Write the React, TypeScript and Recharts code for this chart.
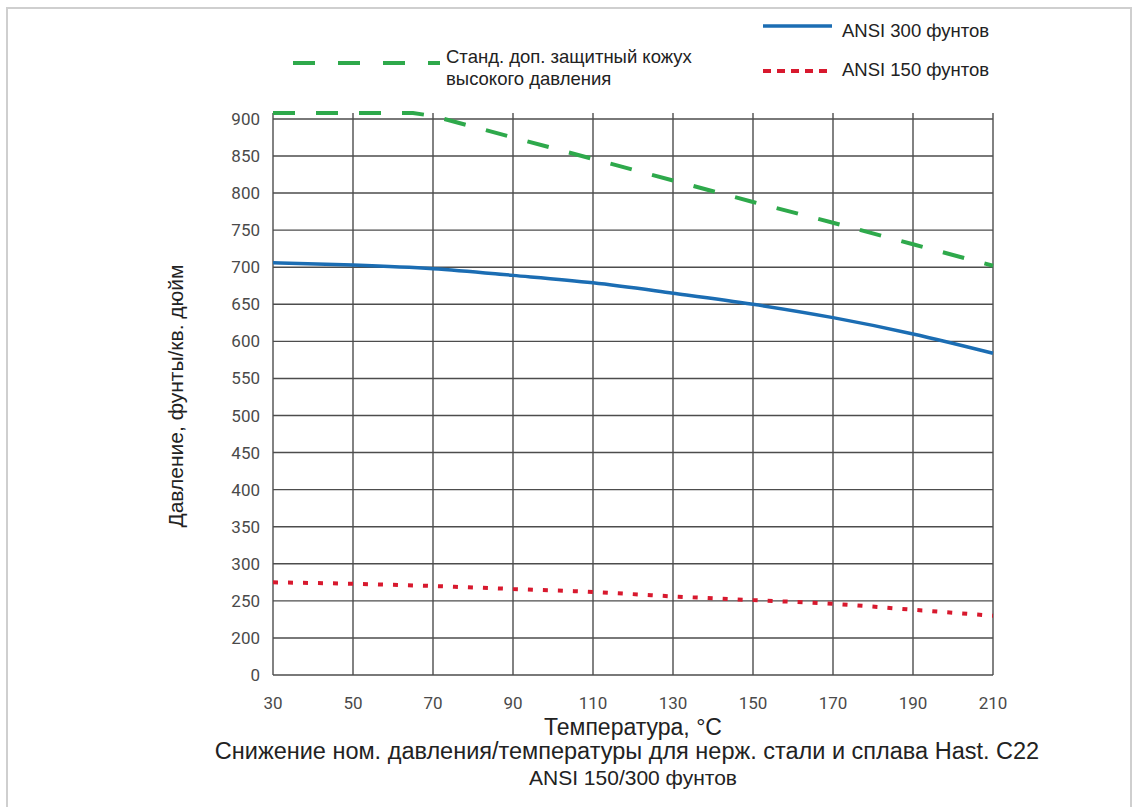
import React from 'react';
import { LineChart, Line, XAxis, YAxis, CartesianGrid } from 'recharts';

// temperature, °C
const temps = [30, 50, 70, 90, 110, 130, 150, 170, 190, 210];
const ansi300 = [706, 703, 698, 689, 679, 665, 650, 632, 610, 584];
const ansi150 = [275, 273, 270, 266, 262, 256, 251, 246, 238, 230];

const guardTemps = [30, 50, 65, 70, 90, 110, 130, 150, 170, 190, 210];
const guard = [908, 908, 908, 904, 875, 846, 817, 788, 760, 731, 702];

const xTicks = [30, 50, 70, 90, 110, 130, 150, 170, 190, 210];
const yLabels = ['0', '200', '250', '300', '350', '400', '450', '500', '550', '600', '650', '700', '750', '800', '850', '900'];

// broken axis: 0, then 200..900 in steps of 50, equally spaced
const toIdx = (v: number) => (v - 150) / 50;

const mainData = temps.map((t, i) => ({ t, a300: toIdx(ansi300[i]), a150: toIdx(ansi150[i]) }));
const guardData = guardTemps.map((t, i) => ({ t, g: toIdx(guard[i]) }));

const GREEN = '#2ea94b';
const BLUE = '#1b6db3';
const RED = '#d8192e';

const txt: React.CSSProperties = {
  position: 'absolute',
  fontFamily: '"Liberation Sans", Arial, sans-serif',
  color: '#222',
  whiteSpace: 'nowrap',
  lineHeight: 1,
};

export default function App() {
  return (
    <div style={{ position: 'absolute', left: 0, top: 0, width: 1139, height: 807, background: '#fff', overflow: 'hidden' }}>
      <div style={{ position: 'absolute', left: 0, top: 0 }}>
        <LineChart width={1139} height={807} margin={{ top: 113, right: 146, bottom: 102, left: 213 }}>
          <CartesianGrid stroke="#4d4d4d" strokeWidth={1.4} horizontalValues={yLabels.map((_, i) => i)} verticalValues={xTicks} />
          <XAxis
            dataKey="t"
            type="number"
            domain={[30, 210]}
            ticks={xTicks}
            allowDuplicatedCategory={false}
            axisLine={false}
            tickLine={false}
            tickMargin={16}
            height={30}
            tick={{ fill: '#4a4a4a', fontSize: 17, fontFamily: 'Roboto' }}
          />
          <YAxis
            type="number"
            domain={[0, 15]}
            ticks={yLabels.map((_, i) => i)}
            tickFormatter={(i: number) => yLabels[i]}
            axisLine={false}
            tickLine={false}
            tickMargin={7}
            width={60}
            tick={{ fill: '#4a4a4a', fontSize: 17, fontFamily: 'Roboto' }}
          />
          <Line data={guardData} dataKey="g" type="linear" stroke={GREEN} strokeWidth={4} strokeDasharray="22 21" dot={false} isAnimationActive={false} />
          <Line data={mainData} dataKey="a300" type="monotone" stroke={BLUE} strokeWidth={3.5} dot={false} isAnimationActive={false} />
          <Line data={mainData} dataKey="a150" type="monotone" stroke={RED} strokeWidth={4} strokeDasharray="5 10" dot={false} isAnimationActive={false} />
        </LineChart>
      </div>

      {/* frame + legend */}
      <svg style={{ position: 'absolute', left: 0, top: 0 }} width={1139} height={807}>
        <polyline points="7,807 7,8 1131,8 1131,807" fill="none" stroke="#cfcfcf" strokeWidth={2} />
        <line x1={293} y1={63} x2={440} y2={63} stroke={GREEN} strokeWidth={4} strokeDasharray="22 23" />
        <line x1={763} y1={26} x2={832} y2={26} stroke={BLUE} strokeWidth={3.5} />
        <line x1={763} y1={71} x2={832} y2={71} stroke={RED} strokeWidth={4} strokeDasharray="8 6" />
      </svg>
      <div style={{ ...txt, left: 446, top: 48, fontSize: 18.5 }}>Станд. доп. защитный кожух</div>
      <div style={{ ...txt, left: 446, top: 70, fontSize: 18.5 }}>высокого давления</div>
      <div style={{ ...txt, left: 842, top: 22, fontSize: 18.5 }}>ANSI 300 фунтов</div>
      <div style={{ ...txt, left: 842, top: 61, fontSize: 18.5 }}>ANSI 150 фунтов</div>

      {/* axis titles */}
      <div style={{ ...txt, left: 175, top: 396, fontSize: 21, transform: 'translate(-50%, -50%) rotate(-90deg)' }}>
        Давление, фунты/кв. дюйм
      </div>
      <div style={{ ...txt, left: 633, top: 727, fontSize: 23, transform: 'translate(-50%, -50%)' }}>Температура, °C</div>
      <div style={{ ...txt, left: 627, top: 752, fontSize: 23.5, transform: 'translate(-50%, -50%)' }}>
        Снижение ном. давления/температуры для нерж. стали и сплава Hast. C22
      </div>
      <div style={{ ...txt, left: 633, top: 777, fontSize: 21, transform: 'translate(-50%, -50%)' }}>ANSI 150/300 фунтов</div>
    </div>
  );
}
